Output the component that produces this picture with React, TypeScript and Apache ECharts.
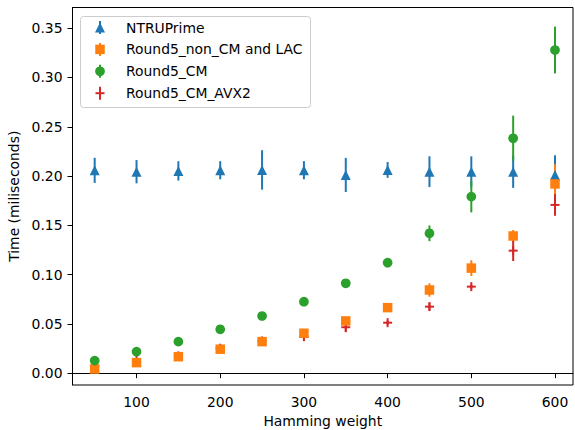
import React, { useEffect, useRef } from "react";
import * as echarts from "echarts";

const hammingWeights = [50, 100, 150, 200, 250, 300, 350, 400, 450, 500, 550, 600];
const seriesNames = ["NTRUPrime", "Round5_non_CM and LAC", "Round5_CM", "Round5_CM_AVX2"];

const ntruMean = [0.2058, 0.2044, 0.2052, 0.2059, 0.2062, 0.2059, 0.2011, 0.2062, 0.2044, 0.2044, 0.2044, 0.2011];
const ntruErr = [0.0127, 0.0118, 0.0098, 0.0092, 0.02, 0.0092, 0.0173, 0.008, 0.0156, 0.0156, 0.0164, 0.02];

const nonCmMean = [0.0042, 0.0107, 0.0167, 0.0243, 0.032, 0.0405, 0.053, 0.0665, 0.0844, 0.1066, 0.1392, 0.192];
const nonCmErr = [0.001, 0.001, 0.0015, 0.002, 0.002, 0.002, 0.003, 0.002, 0.0068, 0.008, 0.006, 0.02];

const cmMean = [0.0127, 0.0218, 0.032, 0.0445, 0.058, 0.0725, 0.0912, 0.1121, 0.1419, 0.1791, 0.2383, 0.3279];
const cmErr = [0.001, 0.001, 0.001, 0.001, 0.001, 0.001, 0.001, 0.004, 0.008, 0.016, 0.023, 0.0237];

const avx2Mean = [0.0076, 0.0134, 0.0175, 0.0253, 0.0327, 0.037, 0.0466, 0.0512, 0.0675, 0.0878, 0.1243, 0.1707];
const avx2Err = [0.002, 0.002, 0.002, 0.002, 0.002, 0.003, 0.005, 0.002, 0.004, 0.002, 0.0105, 0.011];

const xTicks = [100, 200, 300, 400, 500, 600];
const yTicks = [0, 0.05, 0.1, 0.15, 0.2, 0.25, 0.3, 0.35];

const colors = ["#1f77b4", "#ff7f0e", "#2ca02c", "#d62728"];
const FONT = "DejaVu Sans";
const FS = 13.9;

export default function App() {
  const ref = useRef<HTMLDivElement>(null);
  useEffect(() => {
    if (!ref.current) return;
    const chart = echarts.init(ref.current, null, { renderer: "svg" });
    const means = [ntruMean, nonCmMean, cmMean, avx2Mean];
    const errs = [ntruErr, nonCmErr, cmErr, avx2Err];

    const errSeries = means.map((m, si) => ({
      type: "custom",
      name: seriesNames[si] + "_err",
      z: 1,
      encode: { x: 0, y: 1 },
      data: hammingWeights.map((x, i) => [x, m[i], errs[si][i]]),
      renderItem: (params: any, api: any) => {
        const x = api.value(0);
        const y = api.value(1);
        const e = api.value(2);
        const p1 = api.coord([x, y - e]);
        const p2 = api.coord([x, y + e]);
        return {
          type: "line",
          shape: { x1: p1[0], y1: p1[1], x2: p2[0], y2: p2[1] },
          style: { stroke: colors[si], lineWidth: 2 },
        };
      },
    }));

    const scatterShapes = ["triangle", "rect", "circle"];
    const scatterSizes: any[] = [[10, 10], 9.5, 9.7];
    const markerSeries: any[] = [0, 1, 2].map((si) => ({
      type: "scatter",
      name: seriesNames[si],
      z: 2,
      symbol: scatterShapes[si],
      symbolSize: scatterSizes[si],
      itemStyle: { color: colors[si], opacity: 1 },
      data: hammingWeights.map((x, i) => [x, means[si][i]]),
    }));
    markerSeries.push({
      type: "custom",
      name: seriesNames[3],
      z: 2,
      encode: { x: 0, y: 1 },
      data: hammingWeights.map((x, i) => [x, avx2Mean[i]]),
      renderItem: (params: any, api: any) => {
        const p = api.coord([api.value(0), api.value(1)]);
        const h = 4.5;
        return {
          type: "group",
          children: [
            { type: "line", shape: { x1: p[0] - h, y1: p[1], x2: p[0] + h, y2: p[1] }, style: { stroke: colors[3], lineWidth: 2 } },
            { type: "line", shape: { x1: p[0], y1: p[1] - h, x2: p[0], y2: p[1] + h }, style: { stroke: colors[3], lineWidth: 2 } },
          ],
        };
      },
    });

    // Legend
    const legendX = 100;
    const textX = 126;
    const rowY = [27.5, 49.4, 71.3, 93.2];
    const legendChildren: any[] = [
      {
        type: "rect",
        shape: { x: 80.5, y: 16.5, width: 230, height: 91, r: 3 },
        style: { fill: "rgba(255,255,255,0.8)", stroke: "#cccccc", lineWidth: 1 },
      },
    ];
    seriesNames.forEach((name, i) => {
      const cy = rowY[i];
      const c = colors[i];
      legendChildren.push({
        type: "line",
        shape: { x1: legendX, y1: cy - 6.5, x2: legendX, y2: cy + 6.5 },
        style: { stroke: c, lineWidth: 2 },
      });
      if (i === 0) {
        legendChildren.push({
          type: "polygon",
          shape: { points: [[legendX, cy - 5], [legendX - 5, cy + 5], [legendX + 5, cy + 5]] },
          style: { fill: c },
        });
      } else if (i === 1) {
        legendChildren.push({
          type: "rect",
          shape: { x: legendX - 4.75, y: cy - 4.75, width: 9.5, height: 9.5 },
          style: { fill: c },
        });
      } else if (i === 2) {
        legendChildren.push({
          type: "circle",
          shape: { cx: legendX, cy, r: 4.85 },
          style: { fill: c },
        });
      } else {
        legendChildren.push({
          type: "line",
          shape: { x1: legendX - 4.5, y1: cy, x2: legendX + 4.5, y2: cy },
          style: { stroke: c, lineWidth: 2 },
        });
      }
      legendChildren.push({
        type: "text",
        x: textX,
        y: cy,
        style: { text: name, fill: "#000", font: `${FS}px "${FONT}"`, verticalAlign: "middle", align: "left" },
      });
    });

    chart.setOption({
      animation: false,
      backgroundColor: "#ffffff",
      textStyle: { fontFamily: FONT },
      grid: {
        left: 72.5,
        top: 7.5,
        right: 2,
        bottom: 45,
        show: true,
        borderColor: "#000",
        borderWidth: 1,
        backgroundColor: "transparent",
        containLabel: false,
        outerBoundsMode: "none",
      },
      xAxis: {
        type: "value",
        min: 23.5,
        max: 621.5,
        name: "Hamming weight",
        nameLocation: "middle",
        nameGap: 28,
        nameTextStyle: { color: "#000", fontSize: FS, fontFamily: FONT },
        axisLine: { show: true, lineStyle: { color: "#000", width: 1 } },
        axisTick: { show: true, customValues: xTicks, length: 5, inside: false, lineStyle: { color: "#000", width: 1 } },
        axisLabel: { customValues: xTicks, color: "#000", fontSize: FS, fontFamily: FONT, margin: 10 },
        splitLine: { show: false },
      },
      yAxis: {
        type: "value",
        min: -0.012,
        max: 0.371,
        name: "Time (miliseconds)",
        nameLocation: "middle",
        nameGap: 42,
        nameTextStyle: { color: "#000", fontSize: FS, fontFamily: FONT },
        axisLine: { show: true, lineStyle: { color: "#000", width: 1 } },
        axisTick: { show: true, customValues: yTicks, length: 5, inside: false, lineStyle: { color: "#000", width: 1 } },
        axisLabel: {
          customValues: yTicks,
          color: "#000",
          fontSize: FS,
          fontFamily: FONT,
          margin: 10,
          formatter: (v: number) => v.toFixed(2),
        },
        splitLine: { show: false },
      },
      graphic: [{ type: "group", z: 100, children: legendChildren }],
      series: [...errSeries, ...markerSeries],
    });
    return () => chart.dispose();
  }, []);
  return (
    <div
      ref={ref}
      style={{ position: "absolute", left: 0, top: 0, width: 575, height: 430, background: "#fff" }}
    />
  );
}
